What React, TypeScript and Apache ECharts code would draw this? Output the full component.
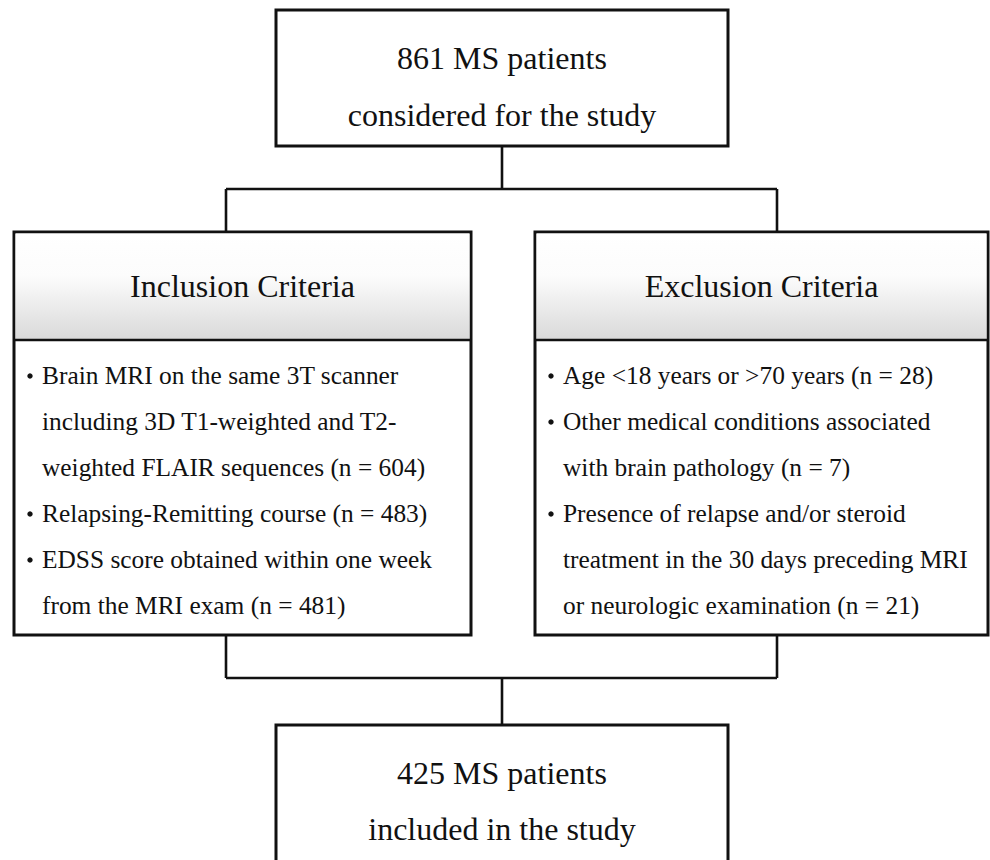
import React, { useEffect, useRef } from "react";
import * as echarts from "echarts";

const topLines = ["861 MS patients", "considered for the study"];
const bottomLines = ["425 MS patients", "included in the study"];
const inclusionTitle = "Inclusion Criteria";
const exclusionTitle = "Exclusion Criteria";
const inclusionItems: string[][] = [
  ["Brain MRI on the same 3T scanner", "including 3D T1-weighted and T2-", "weighted FLAIR sequences (n = 604)"],
  ["Relapsing-Remitting course (n = 483)"],
  ["EDSS score obtained within one week", "from the MRI exam (n = 481)"],
];
const exclusionItems: string[][] = [
  ["Age <18 years or >70 years (n = 28)"],
  ["Other medical conditions associated", "with brain pathology (n = 7)"],
  ["Presence of relapse and/or steroid", "treatment in the 30 days preceding MRI", "or neurologic examination (n = 21)"],
];

const FONT = '"Liberation Serif", "Times New Roman", serif';
const INK = "#111111";

function txt(text: string, x: number, y: number, size: number, align: string) {
  return {
    type: "text",
    silent: true,
    style: {
      text,
      x,
      y,
      fontSize: size,
      fontFamily: FONT,
      fill: INK,
      align,
      verticalAlign: "middle",
      textAlign: align,
      textVerticalAlign: "middle",
    },
  };
}

function line(x1: number, y1: number, x2: number, y2: number) {
  return {
    type: "line",
    silent: true,
    shape: { x1, y1, x2, y2 },
    style: { stroke: INK, lineWidth: 2.6 },
  };
}

function box(x: number, y: number, w: number, h: number) {
  return {
    type: "rect",
    silent: true,
    shape: { x, y, width: w, height: h },
    style: { fill: "#ffffff", stroke: INK, lineWidth: 3 },
  };
}

function criteriaBox(x: number, w: number, title: string, items: string[][]) {
  const top = 232;
  const bottom = 635;
  const headerBottom = 340;
  const els: any[] = [];
  els.push(box(x, top, w, bottom - top));
  els.push({
    type: "rect",
    silent: true,
    shape: { x: x + 1.5, y: top + 1.5, width: w - 3, height: headerBottom - top - 1.5 },
    style: {
      fill: new echarts.graphic.LinearGradient(0, 0, 0, 1, [
        { offset: 0, color: "#ffffff" },
        { offset: 0.4, color: "#fcfcfc" },
        { offset: 1, color: "#d9d9d9" },
      ]),
    },
  });
  els.push(line(x, headerBottom, x + w, headerBottom));
  els.push(txt(title, x + w / 2, 286, 32, "center"));
  let y = 375;
  const step = 46;
  items.forEach((para) => {
    els.push({
      type: "circle",
      silent: true,
      shape: { cx: x + 16, cy: y + 1, r: 2.7 },
      style: { fill: INK },
    });
    para.forEach((ln) => {
      els.push(txt(ln, x + 28, y, 25.4, "left"));
      y += step;
    });
  });
  return els;
}

export default function App() {
  const ref = useRef<HTMLDivElement>(null);
  useEffect(() => {
    if (!ref.current) return;
    const chart = echarts.init(ref.current, undefined, { renderer: "svg" });
    const elements: any[] = [];
    // connectors
    elements.push(line(502, 146, 502, 189));
    elements.push(line(226, 189, 777, 189));
    elements.push(line(226, 189, 226, 232));
    elements.push(line(777, 189, 777, 232));
    elements.push(line(226, 635, 226, 678));
    elements.push(line(777, 635, 777, 678));
    elements.push(line(226, 678, 777, 678));
    elements.push(line(502, 678, 502, 725));
    // top box
    elements.push(box(276, 10, 452, 136));
    elements.push(txt(topLines[0], 502, 58, 32, "center"));
    elements.push(txt(topLines[1], 502, 115, 32, "center"));
    // criteria boxes
    elements.push(...criteriaBox(14, 457, inclusionTitle, inclusionItems));
    elements.push(...criteriaBox(535, 453, exclusionTitle, exclusionItems));
    // bottom box
    elements.push(box(276, 725, 452, 140));
    elements.push(txt(bottomLines[0], 502, 773, 32, "center"));
    elements.push(txt(bottomLines[1], 502, 829, 32, "center"));

    chart.setOption({
      animation: false,
      backgroundColor: "#ffffff",
      graphic: { elements },
    });
    return () => chart.dispose();
  }, []);
  return (
    <div
      ref={ref}
      style={{ position: "fixed", left: 0, top: 0, width: 990, height: 860 }}
    />
  );
}
